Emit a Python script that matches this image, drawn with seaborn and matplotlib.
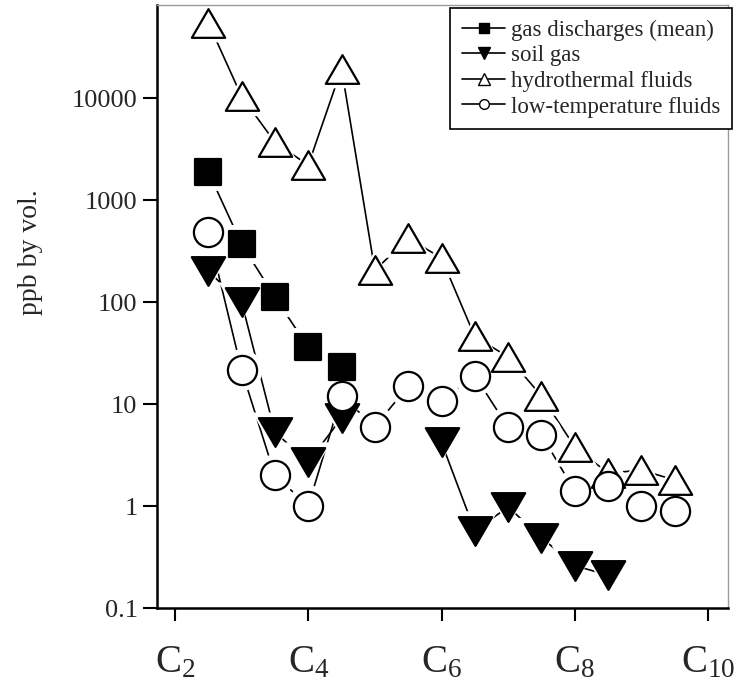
import matplotlib
matplotlib.use("Agg")
import matplotlib.pyplot as plt
from matplotlib.lines import Line2D
from matplotlib.path import Path
from matplotlib.ticker import NullLocator
import pandas as pd
import seaborn as sns

# carbon number (half steps between C2 ... C10)
x_gas = [2.5, 3.0, 3.5, 4.0, 4.5]
gas_discharges = [1900, 370, 112, 36, 23]

x_soil = [2.5, 3.0, 3.5, 4.0, 4.5, 6.0, 6.5, 7.0, 7.5, 8.0, 8.5]
soil_gas = [200, 100, 5.3, 2.7, 7.3, 4.2, 0.57, 0.98, 0.49, 0.26, 0.21]
soil_segment = [0, 0, 0, 0, 0, 1, 1, 1, 1, 1, 1]

x_fluids = [2.5, 3.0, 3.5, 4.0, 4.5, 5.0, 5.5, 6.0, 6.5, 7.0, 7.5, 8.0, 8.5, 9.0, 9.5]
hydrothermal = [55000, 10400, 3700, 2200, 19500, 205, 425, 270, 46, 29, 12, 3.8, 2.1, 2.25, 1.8]
low_temperature = [486, 21.5, 2.0, 1.0, 12, 6.0, 15, 10.7, 19, 5.9, 5.0, 1.4, 1.57, 1.0, 0.9]

labels = ["gas discharges (mean)", "soil gas", "hydrothermal fluids", "low-temperature fluids"]
x_ticks = [2, 4, 6, 8, 10]
x_ticklabels = [r"$\mathrm{C}_{2}$", r"$\mathrm{C}_{4}$", r"$\mathrm{C}_{6}$",
                r"$\mathrm{C}_{8}$", r"$\mathrm{C}_{10}$"]
y_ticks = [0.1, 1, 10, 100, 1000, 10000]
y_ticklabels = ["0.1", "1", "10", "100", "1000", "10000"]

sns.set_style("ticks")
plt.rcParams["font.family"] = ["Liberation Serif", "DejaVu Serif"]
plt.rcParams["mathtext.fontset"] = "custom"
plt.rcParams["mathtext.rm"] = "Liberation Serif"
plt.rcParams["mathtext.it"] = "Liberation Serif:italic"

# slightly flattened triangles, closed so the outline is complete
up_tri = Path([(0, 0.86), (-1, -0.86), (1, -0.86), (0, 0.86)], closed=True)
down_tri = Path([(0, -0.86), (-1, 0.86), (1, 0.86), (0, -0.86)], closed=True)

series = [
    (pd.DataFrame({"x": x_gas, "y": gas_discharges, "seg": 0}), "s", "black", 19),
    (pd.DataFrame({"x": x_soil, "y": soil_gas, "seg": soil_segment}), down_tri, "black", 24),
    (pd.DataFrame({"x": x_fluids, "y": hydrothermal, "seg": 0}), up_tri, "white", 24),
    (pd.DataFrame({"x": x_fluids, "y": low_temperature, "seg": 0}), "o", "white", 21),
]

fig = plt.figure(figsize=(7.5, 6.85), dpi=100)
ax = fig.add_axes([0.2093, 0.1124, 0.7614, 0.8803])
ax.set_yscale("log")

for df, m, fc, size in series:
    sns.lineplot(data=df, x="x", y="y", units="seg", estimator=None, sort=False,
                 color="black", lw=1.2, zorder=1, ax=ax, legend=False)
# white halo so lines stop short of the markers
for df, m, fc, size in series:
    sns.scatterplot(data=df, x="x", y="y", marker=m, s=(size + 9) ** 2, color="white",
                    edgecolor="none", linewidth=0, zorder=2, ax=ax, legend=False)
for df, m, fc, size in series:
    sns.scatterplot(data=df, x="x", y="y", marker=m, s=size ** 2, color=fc,
                    edgecolor="black", linewidth=1.6, zorder=3, ax=ax, legend=False)

ax.set_xlim(1.73, 10.3)
ax.set_ylim(0.1, 82000)
ax.set_xticks(x_ticks)
ax.set_xticklabels(x_ticklabels)
ax.set_yticks(y_ticks)
ax.set_yticklabels(y_ticklabels)
ax.yaxis.set_minor_locator(NullLocator())
ax.set_xlabel("")
ax.set_ylabel("ppb by vol.", fontsize=20)
ax.yaxis.set_label_coords(-0.2, 0.59)

for side in ["left", "bottom"]:
    ax.spines[side].set_color("black")
    ax.spines[side].set_linewidth(1.8)
for side in ["top", "right"]:
    ax.spines[side].set_visible(True)
    ax.spines[side].set_color("#9a9a9a")
    ax.spines[side].set_linewidth(1.0)

ax.tick_params(axis="y", direction="out", length=10, width=1.5, labelsize=19, pad=4, color="black")
ax.tick_params(axis="x", direction="out", length=9, width=1.5, labelsize=28, pad=17, color="black")

handles = [
    Line2D([0], [0], color="black", lw=1.2, marker="s", ms=7, mfc="black", mec="black"),
    Line2D([0], [0], color="black", lw=1.2, marker="v", ms=8, mfc="black", mec="black"),
    Line2D([0], [0], color="black", lw=1.2, marker="^", ms=8, mfc="white", mec="black", mew=1.0),
    Line2D([0], [0], color="black", lw=1.2, marker="o", ms=7, mfc="white", mec="black", mew=1.0),
]
leg = ax.legend(handles, labels, loc="upper right", bbox_to_anchor=(732 / 750, 1 - 8 / 685),
                bbox_transform=fig.transFigure, borderaxespad=0, fontsize=16.5,
                labelspacing=0.2, handlelength=1.9, handletextpad=0.25, borderpad=0.5,
                fancybox=False, framealpha=1, edgecolor="black")
leg.get_frame().set_linewidth(1.2)

fig.savefig("out.png", dpi=100)
